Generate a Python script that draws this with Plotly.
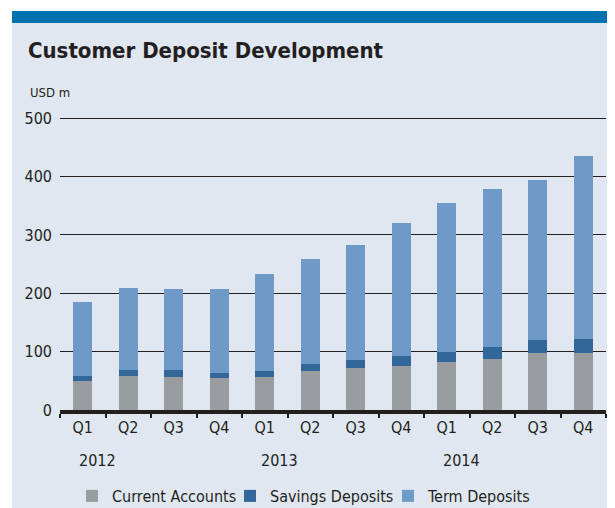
import plotly.graph_objects as go

quarters = ["Q1", "Q2", "Q3", "Q4"] * 3
years = ["2012"] * 4 + ["2013"] * 4 + ["2014"] * 4
categories = [f"{y} {q}" for y, q in zip(years, quarters)]

current_accounts = [49, 59, 57, 54, 56, 67, 72, 76, 82, 87, 98, 98]
savings_deposits = [10, 10, 11, 10, 11.5, 12, 14, 16.5, 17, 21, 22, 24]
term_deposits = [126, 140, 140, 144, 165.5, 180, 196, 227.5, 255, 270, 274, 313]

y_ticks = [0, 100, 200, 300, 400, 500]

FONT = "DejaVu Sans Condensed, Liberation Sans Narrow, sans-serif"
DARK = "#231F20"
BG = "#E1E7F1"

# page body has an 8px margin; figure sized to fill the remaining window
OFF = 8
W, H = 615 - OFF, 508 - OFF
L, R, T, B = 52, 9, 109, 98
pw, ph = W - L - R, H - T - B

def px_x(px):
    return (px - OFF - L) / pw

def px_y(py):
    return (H - B - (py - OFF)) / ph

fig = go.Figure()
fig.add_trace(go.Bar(name="Current Accounts", x=categories, y=current_accounts,
                     marker=dict(color="#9A9D9F", line=dict(width=0))))
fig.add_trace(go.Bar(name="Savings Deposits", x=categories, y=savings_deposits,
                     marker=dict(color="#336699", line=dict(width=0))))
fig.add_trace(go.Bar(name="Term Deposits", x=categories, y=term_deposits,
                     marker=dict(color="#6F9AC7", line=dict(width=0))))

shapes = [
    dict(type="rect", xref="paper", yref="paper", x0=px_x(12), x1=px_x(660),
         y0=px_y(560), y1=px_y(23), fillcolor=BG, line=dict(width=0), layer="below"),
    dict(type="rect", xref="paper", yref="paper", x0=px_x(12), x1=px_x(660),
         y0=px_y(23), y1=px_y(11), fillcolor="#0072AE", line=dict(width=0), layer="below"),
]

annotations = [
    dict(text="USD m", xref="paper", yref="paper", x=px_x(28), y=px_y(93),
         xanchor="left", yanchor="middle", showarrow=False,
         font=dict(family=FONT, size=13, color=DARK)),
]
for i, (y, q) in enumerate(zip(years, quarters)):
    if q == "Q1":
        annotations.append(dict(text=y, x=categories[i], xref="x", yref="paper",
                                y=px_y(460), xanchor="left", yanchor="middle",
                                xshift=-6, showarrow=False,
                                font=dict(family=FONT, size=16, color=DARK)))

fig.update_layout(
    width=W, height=H,
    margin=dict(l=L, r=R, t=T, b=B, pad=0, autoexpand=False),
    barmode="stack",
    bargap=0.58,
    paper_bgcolor="white",
    plot_bgcolor="rgba(0,0,0,0)",
    shapes=shapes,
    annotations=annotations,
    title=dict(text="<b>Customer Deposit Development</b>", xref="container", yref="container",
               x=(28 - OFF) / W, y=1 - (50 - OFF) / H, xanchor="left", yanchor="middle",
               font=dict(family=FONT, size=22, color=DARK)),
    font=dict(family=FONT, color=DARK),
    showlegend=True,
    legend=dict(orientation="h", xref="container", yref="container",
                x=(72 - OFF) / W, y=1 - (496 - OFF) / H, xanchor="left", yanchor="middle",
                font=dict(family=FONT, size=16, color=DARK), bgcolor="rgba(0,0,0,0)",
                traceorder="normal", itemwidth=30, tracegroupgap=0,
                entrywidth=113, entrywidthmode="pixels"),
    xaxis=dict(type="category", tickmode="array", tickvals=categories, ticktext=quarters,
               tickson="boundaries", ticks="outside", ticklen=4, tickwidth=2, tickcolor=DARK,
               showline=True, linewidth=4, linecolor=DARK, showgrid=False,
               tickfont=dict(family=FONT, size=16, color=DARK), fixedrange=True),
    yaxis=dict(range=[0, 502], tickvals=y_ticks, showgrid=True, gridcolor=DARK, gridwidth=1.3,
               zeroline=False, showline=False, ticks="", ticklabelstandoff=7,
               tickfont=dict(family=FONT, size=16, color=DARK), fixedrange=True),
)

fig.write_html("out.html")
